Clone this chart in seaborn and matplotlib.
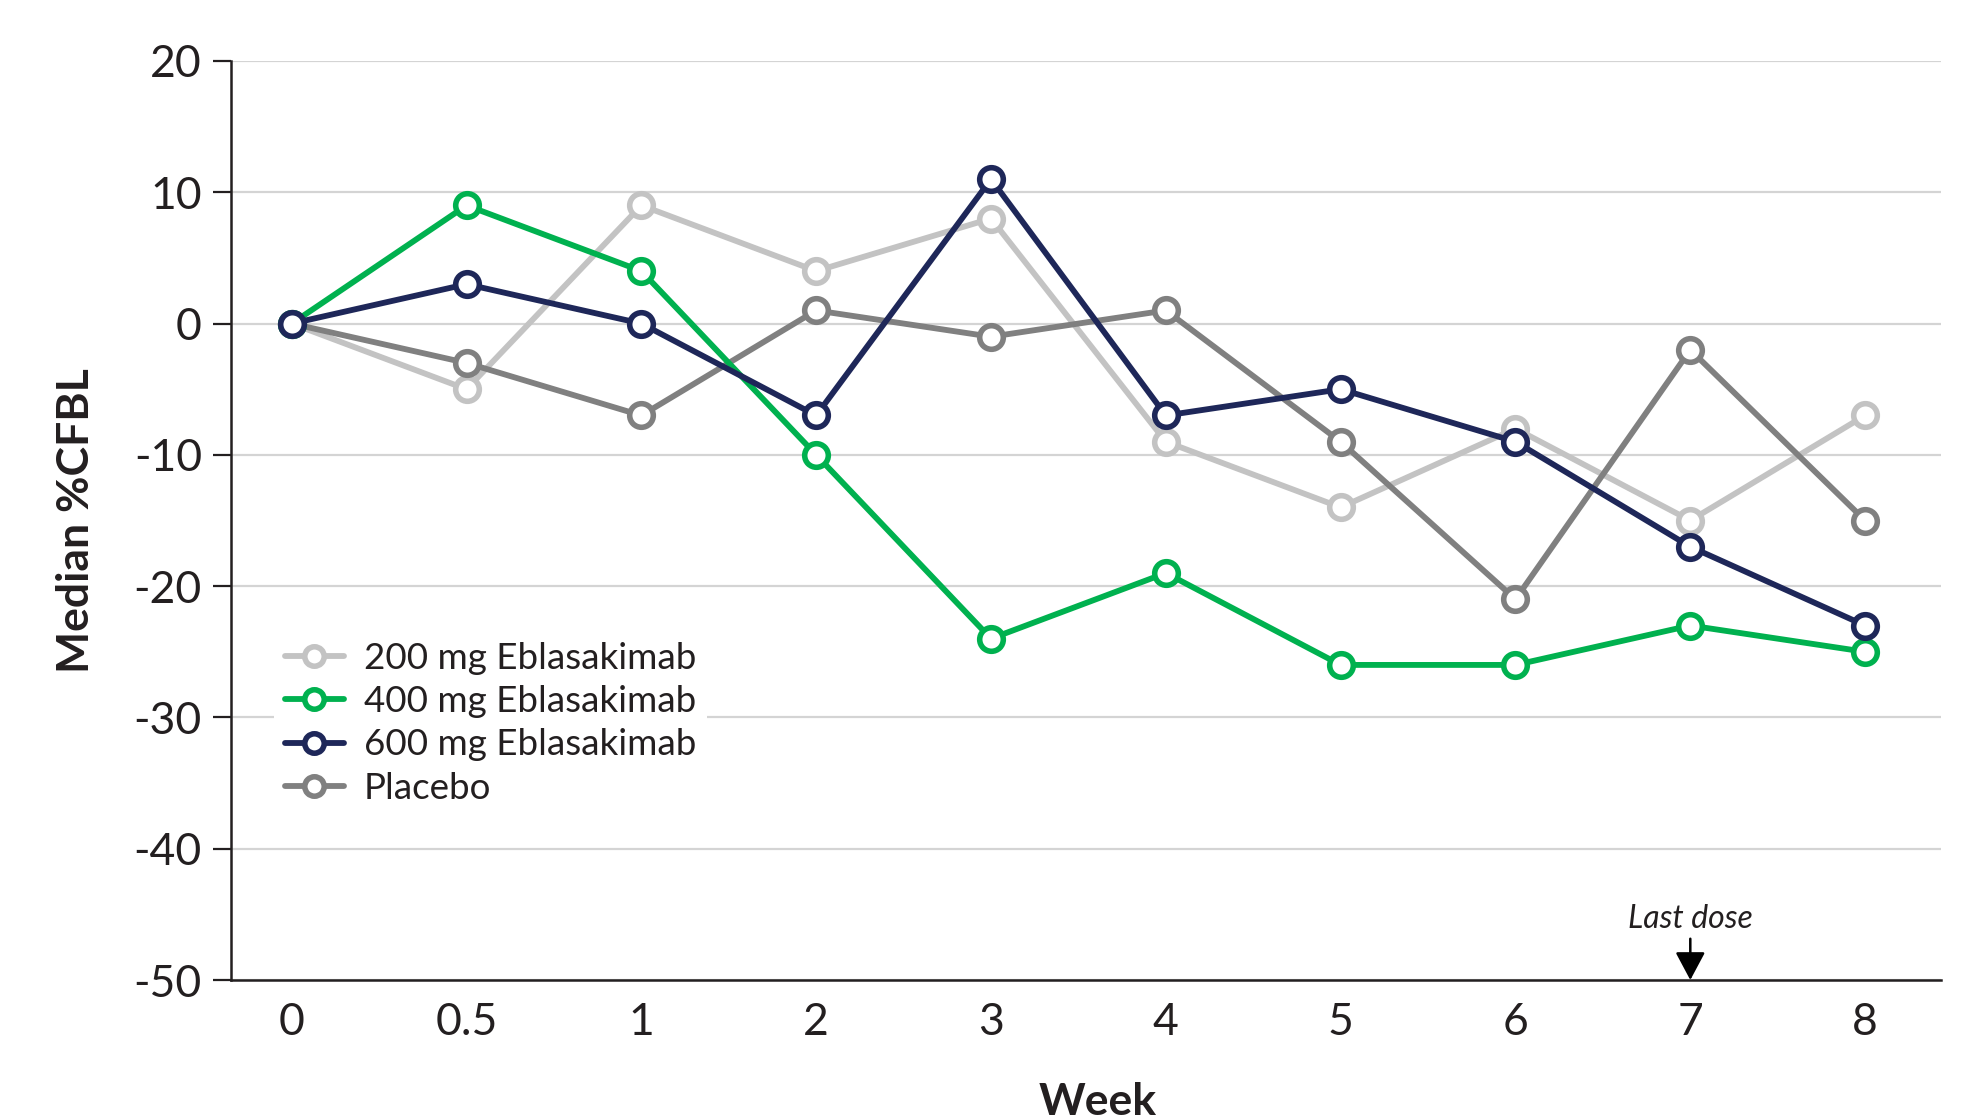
import matplotlib
matplotlib.use("Agg")
import matplotlib.pyplot as plt
from matplotlib.lines import Line2D
import seaborn as sns
import pandas as pd

weeks = ["0", "0.5", "1", "2", "3", "4", "5", "6", "7", "8"]
dose_200 = [0, -5, 9, 4, 8, -9, -14, -8, -15, -7]
dose_400 = [0, 9, 4, -10, -24, -19, -26, -26, -23, -25]
dose_600 = [0, 3, 0, -7, 11, -7, -5, -9, -17, -23]
placebo = [0, -3, -7, 1, -1, 1, -9, -21, -2, -15]

groups = ["200 mg Eblasakimab", "400 mg Eblasakimab", "600 mg Eblasakimab", "Placebo"]
colors = ["#c3c3c3", "#00b14f", "#1e2759", "#808080"]
zorders = [3, 5, 6, 4]

df = pd.concat(axis=0, ignore_index=True, objs=[
    pd.DataFrame({"week": weeks, "value": vals, "group": name})
    for name, vals in zip(groups, [dose_200, dose_400, dose_600, placebo])
])

sns.set_style("white")
plt.rcParams["font.family"] = ["Lato", "DejaVu Sans"]
plt.rcParams["axes.unicode_minus"] = False
text_color = "#231f20"

fig = plt.figure(figsize=(19.8, 11.19), dpi=100)
ax = fig.add_axes([0.1167, 0.1242, 0.8636, 0.8213])

sns.pointplot(data=df, x="week", y="value", hue="group", order=weeks,
              hue_order=groups, palette=colors, errorbar=None, dodge=False,
              markers="o", linestyles="-", legend=False, ax=ax,
              linewidth=4.2, markersize=17, markeredgewidth=4)

for line, z in zip(ax.lines, zorders):
    line.set_markerfacecolor("white")
    line.set_zorder(z)

ax.set_ylim(-50, 20)
ax.set_xlim(-0.347, 9.434)
ax.set_yticks(range(-50, 21, 10))
ax.yaxis.grid(True, color="#d4d4d4", linewidth=1.6, zorder=0)
ax.set_axisbelow(True)

for side in ["top", "right"]:
    ax.spines[side].set_visible(False)
for side in ["left", "bottom"]:
    ax.spines[side].set_color(text_color)
    ax.spines[side].set_linewidth(1.8)

ax.tick_params(axis="y", length=13, width=1.6, color=text_color, pad=8,
               labelsize=32, labelcolor=text_color, left=True)
ax.tick_params(axis="x", length=0, pad=16, labelsize=32, labelcolor=text_color)

ax.set_xlabel("Week", fontsize=32, fontweight="bold", color=text_color, va="top")
ax.set_ylabel("Median %CFBL", fontsize=32, fontweight="bold", color=text_color)
ax.xaxis.set_label_coords(0.507, -0.111)
ax.yaxis.set_label_coords(-0.079, 0.5)

handles = [Line2D([], [], color=c, linewidth=4.2, marker="o", markersize=14,
                  markerfacecolor="white", markeredgewidth=4)
           for c in colors]
leg = ax.legend(handles, groups, loc="upper left", bbox_to_anchor=(0.025, 0.38),
                frameon=True, facecolor="white", edgecolor="none", framealpha=1,
                fontsize=26.5, handlelength=1.6, handletextpad=0.55,
                labelspacing=0.28, borderpad=0.3, borderaxespad=0)
for t in leg.get_texts():
    t.set_color(text_color)
leg.set_zorder(2)

ax.annotate("Last dose", xy=(weeks.index("7"), -50), xytext=(weeks.index("7"), -46.5),
            ha="center", va="bottom", fontsize=23, style="italic", color=text_color,
            arrowprops=dict(arrowstyle="-|>,head_length=0.75,head_width=0.4",
                            color="black", linewidth=1.8, shrinkA=1, shrinkB=0))

fig.savefig("out.png", dpi=100)
